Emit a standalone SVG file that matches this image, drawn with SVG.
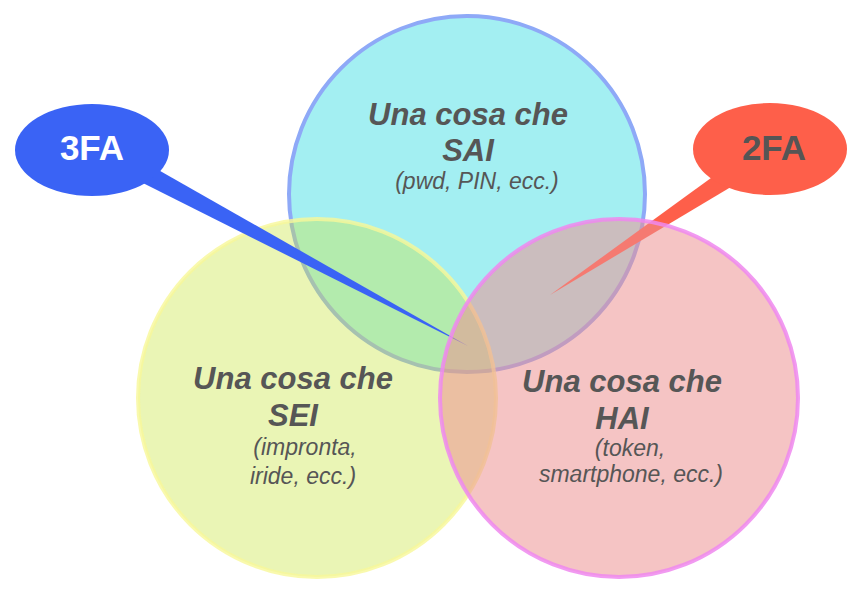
<svg xmlns="http://www.w3.org/2000/svg" width="868" height="600" viewBox="0 0 868 600">
<style>
.title{font-family:"Liberation Sans",Arial,sans-serif;font-weight:bold;font-style:italic;font-size:31px;fill:#565656;text-anchor:middle}
.sub{font-family:"Liberation Sans",Arial,sans-serif;font-style:italic;font-size:23px;fill:#565656;text-anchor:middle}
.lbl{font-family:"Liberation Sans",Arial,sans-serif;font-weight:bold;font-size:35px;text-anchor:middle}
</style>
<rect width="868" height="600" fill="#ffffff"/>
<g id="node-sai">
<circle cx="467" cy="194" r="178" fill="#a3eff2" stroke="#8ea9f7" stroke-width="4"/>
<text class="title" x="468" y="125">Una cosa che</text>
<text class="title" x="468" y="161">SAI</text>
<text class="sub" x="477" y="189">(pwd, PIN, ecc.)</text>
</g>
<g id="node-sei">
<circle cx="317" cy="398" r="179" fill="#cbe647" fill-opacity="0.4" stroke="#f7f79a" stroke-opacity="0.8" stroke-width="4"/>
<text class="title" x="293" y="389">Una cosa che</text>
<text class="title" x="293" y="426">SEI</text>
<text class="sub" x="305" y="455">(impronta,</text>
<text class="sub" x="303" y="484">iride, ecc.)</text>
</g>
<g id="connectors">
<polygon points="125,151 468,346 115,169" fill="#3a63f5"/>
<polygon points="744,154 550,295 756,172" fill="#fe5f4a"/>
</g>
<g id="node-3fa">
<ellipse cx="92" cy="150" rx="77" ry="46" fill="#3a63f5"/>
<text class="lbl" x="92" y="160" fill="#ffffff">3FA</text>
</g>
<g id="node-2fa">
<ellipse cx="770" cy="149" rx="77" ry="46" fill="#fe5f4a"/>
<text class="lbl" x="774" y="160" fill="#555555">2FA</text>
</g>
<g id="node-hai">
<circle cx="619" cy="398" r="179" fill="#ec9292" fill-opacity="0.54" stroke="#ee88ee" stroke-opacity="0.85" stroke-width="4"/>
<text class="title" x="622" y="392">Una cosa che</text>
<text class="title" x="622" y="429">HAI</text>
<text class="sub" x="630" y="456">(token,</text>
<text class="sub" x="631" y="482">smartphone, ecc.)</text>
</g>
</svg>
